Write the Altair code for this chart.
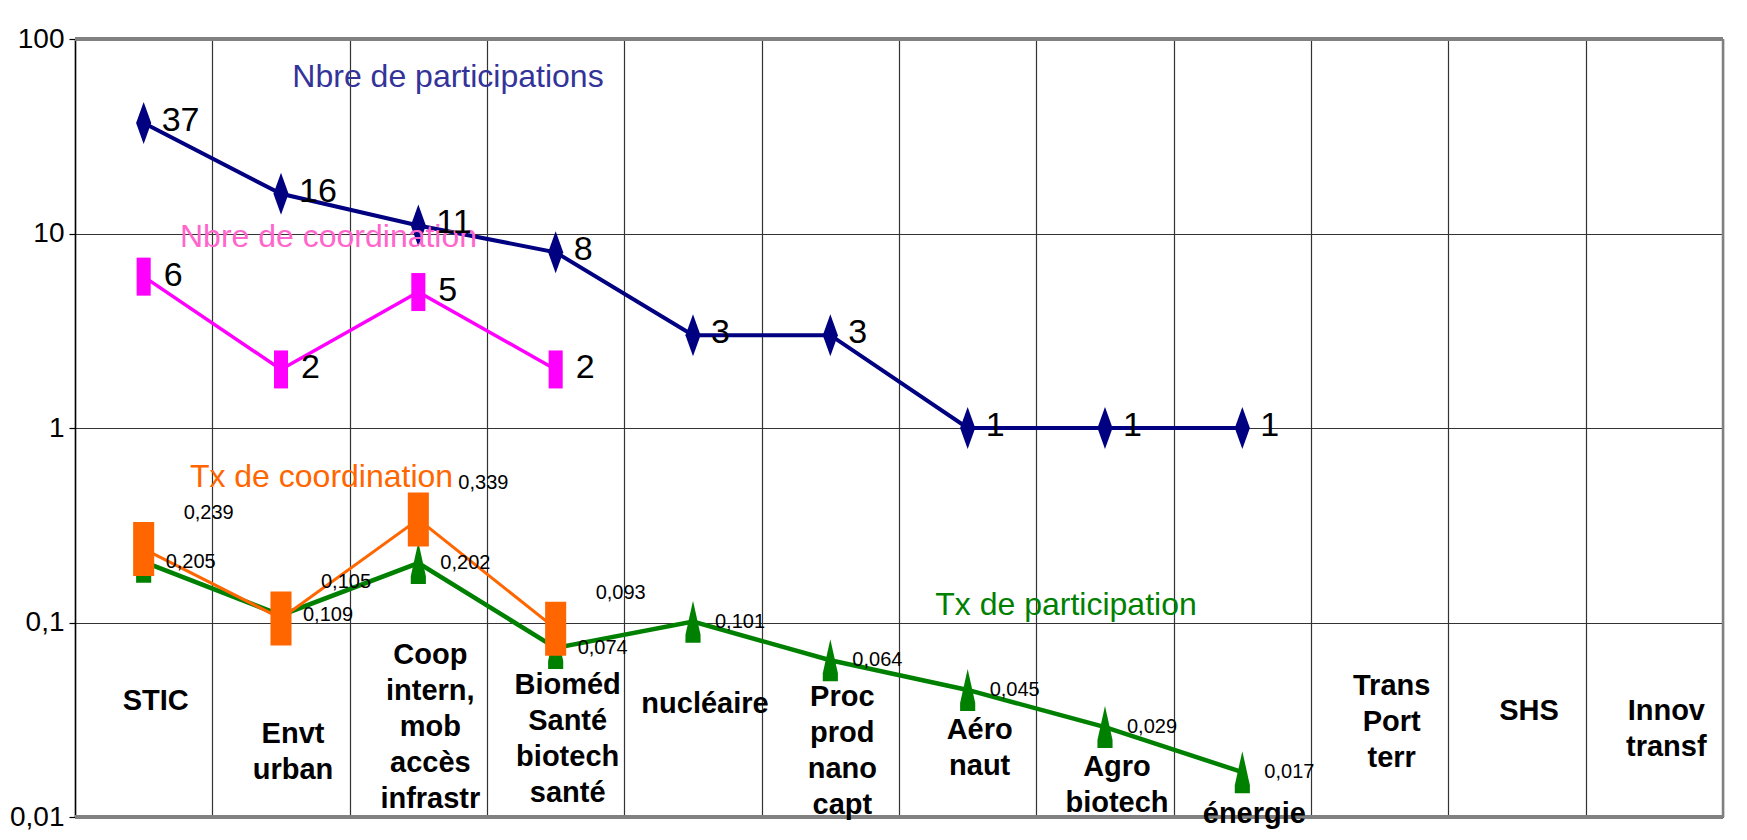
import altair as alt
import pandas as pd

# ---------------- data ----------------
categories = [
    "STIC", "Envt\nurban", "Coop\nintern,\nmob\naccès\ninfrastr",
    "Bioméd\nSanté\nbiotech\nsanté", "nucléaire", "Proc\nprod\nnano\ncapt",
    "Aéro\nnaut", "Agro\nbiotech", "énergie", "Trans\nPort\nterr", "SHS",
    "Innov\ntransf",
]
nb_participations = [37, 16, 11, 8, 3, 3, 1, 1, 1]
nb_coordination = [6, 2, 5, 2]
tx_coordination = [0.239, 0.105, 0.339, 0.093]
tx_participation = [0.205, 0.109, 0.202, 0.074, 0.101, 0.064, 0.045, 0.029, 0.017]
y_ticks = [0.01, 0.1, 1, 10, 100]

# layout: top of each category caption, in y-axis units (captions sit inside the plot)
caption_top = [0.0466, 0.0316, 0.0804, 0.0563, 0.045, 0.0489, 0.033, 0.0213,
               0.0122, 0.0557, 0.0414, 0.0414]

NARROW = '"Liberation Sans Narrow", "Arial Narrow", "Liberation Sans", Arial, sans-serif'
SANS = '"Liberation Sans", Arial, Helvetica, sans-serif'

NAVY = "#000080"
MAGENTA = "#FF00FF"
ORANGE = "#FF6600"
GREEN = "#008000"
FRAME = "#808080"
GRID = "#333333"
N = len(categories)


def series_frame(values):
    return pd.DataFrame({
        "x": [i + 0.5 for i in range(len(values))],
        "cat": categories[:len(values)],
        "v": values,
        "label": [f"{v:g}".replace(".", ",") for v in values],
    })


df_np = series_frame(nb_participations)
df_nc = series_frame(nb_coordination)
df_tc = series_frame(tx_coordination)
df_tp = series_frame(tx_participation)

x_scale = alt.Scale(domain=[0, N], nice=False, zero=False)
y_scale = alt.Scale(type="log", domain=[0.01, 100], nice=False)
x_axis = alt.Axis(values=list(range(N + 1)), grid=True, gridColor=GRID,
                  gridWidth=1.2, labels=False, ticks=False, domain=False, title=None)
y_axis = alt.Axis(values=y_ticks, grid=True, gridColor=GRID, gridWidth=1.2,
                  domainColor="#000000", domainWidth=1.5, tickColor="#000000",
                  tickSize=6, tickWidth=1.2, labelFont=NARROW, labelFontSize=28,
                  labelColor="#000000", labelPadding=5,
                  labelExpr="replace(toString(datum.value), '.', ',')", title=None)
X = alt.X("x:Q", scale=x_scale, axis=x_axis)
Y = alt.Y("v:Q", scale=y_scale, axis=y_axis)
X2 = alt.X2("x2:Q")
Y2 = alt.Y2("v2:Q")

# frame (thick grey top / bottom border, grey right border)
frame_h = pd.DataFrame({"x": [0, 0], "x2": [N, N], "v": [100, 0.01]})
frame_r = pd.DataFrame({"x": [N], "v": [0.01], "v2": [100]})
frame = [
    alt.Chart(frame_h).mark_rule(color=FRAME, strokeWidth=4).encode(x=X, x2=X2, y=Y),
    alt.Chart(frame_r).mark_rule(color=FRAME, strokeWidth=2.5).encode(x=X, y=Y, y2=Y2),
]

DIAMOND = "M0,-1L0.36,0L0,1L-0.36,0Z"
RECT_THIN = "M-0.37,-1H0.37V1H-0.37Z"
RECT_WIDE = "M-0.39,-1H0.39V1H-0.39Z"
TRIANGLE = "M0,-1L0.36,0.62L0.36,1L-0.36,1L-0.36,0.62Z"


def line(df, color, w):
    return alt.Chart(df).mark_line(color=color, strokeWidth=w).encode(x=X, y=Y)


def pts(df, color, shape, size):
    return alt.Chart(df).mark_point(shape=shape, size=size, filled=True,
                                    color=color, opacity=1, strokeWidth=0).encode(x=X, y=Y)


def labels(df, size, dx, dy):
    return alt.Chart(df).mark_text(font=NARROW, fontSize=size, color="#000000",
                                   align="left", baseline="middle", dx=dx, dy=dy
                                   ).encode(x=X, y=Y, text="label:N")


marks = [
    line(df_tp, GREEN, 4.5), pts(df_tp, GREEN, TRIANGLE, 1764),
    line(df_tc, ORANGE, 3), pts(df_tc, ORANGE, RECT_WIDE, 2916),
    line(df_nc, MAGENTA, 3.5), pts(df_nc, MAGENTA, RECT_THIN, 1444),
    line(df_np, NAVY, 4), pts(df_np, NAVY, DIAMOND, 1764),
]

texts = [
    labels(df_np, 34, 18, -2),
    labels(df_nc, 34, 20, -1),
    labels(df_tp, 20, 22, 0),
    labels(df_tc, 20, 40, -36),
]

captions = alt.Chart(pd.DataFrame({
    "x": [i + 0.5 for i in range(N)],
    "v": caption_top,
    "text": categories,
})).mark_text(font=SANS, fontSize=29, fontWeight="bold", color="#000000",
              align="center", baseline="top", lineBreak="\n", lineHeight=36,
              dx=12).encode(x=X, y=Y, text="text:N")

# series names written inside the plot
notes_df = pd.DataFrame({
    "text": ["Nbre de participations", "Nbre de coordination",
             "Tx de coordination", "Tx de participation"],
    "x": [2.716, 1.846, 1.795, 7.216],
    "v": [56.6, 8.53, 0.498, 0.109],
    "color": ["#333399", "#FF66CC", ORANGE, GREEN],
})
notes = alt.Chart(notes_df).mark_text(font=SANS, fontSize=32, align="center",
                                      baseline="alphabetic").encode(
    x=X, y=Y, text="text:N", color=alt.Color("color:N", scale=None))

chart = alt.layer(*frame, *marks, captions, notes, *texts).properties(
    width=1648, height=778,
    autosize=alt.AutoSizeParams(type="none"),
    padding={"left": 67, "top": 31, "right": 16, "bottom": 15},
    background="white",
).configure_view(stroke=None)

chart.save("out.html", embed_options={"renderer": "svg", "actions": False})
